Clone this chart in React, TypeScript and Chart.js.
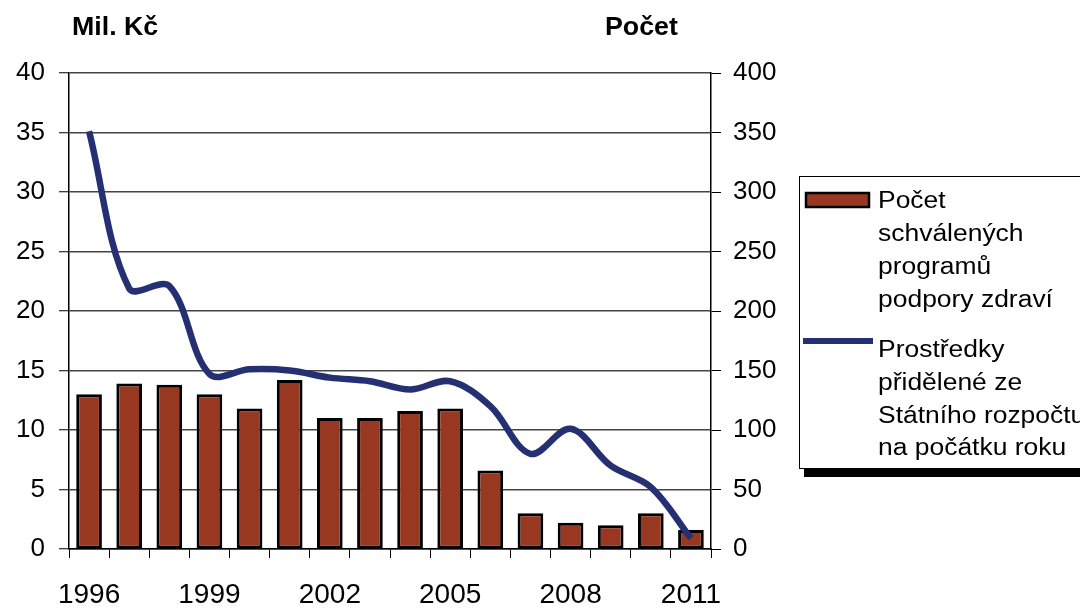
import React, { useEffect, useRef } from "react";
import { Chart, registerables } from "chart.js";

Chart.register(...registerables);

const years = ["1996", "1997", "1998", "1999", "2000", "2001", "2002", "2003", "2004", "2005", "2006", "2007", "2008", "2009", "2010", "2011"];
const programCounts = [130, 139, 138, 130, 118, 142, 110, 110, 116, 118, 66, 30, 22, 20, 30, 16];
const fundsMilCzk = [35.1, 21.9, 22.1, 14.7, 15.1, 15.0, 14.4, 14.1, 13.4, 14.1, 12.0, 8.0, 10.1, 7.0, 5.2, 0.9];
const leftTitle = "Mil. Kč";
const rightTitle = "Počet";
const legendBars = ["Počet", "schválených", "programů", "podpory zdraví"];
const legendLine = ["Prostředky", "přidělené ze", "Státního rozpočtu", "na počátku roku"];

const FONT = "'Liberation Sans', Arial, sans-serif";
const BAR_COLOR = "#993820";
const LINE_COLOR = "#243072";

function stretchedText(ctx: CanvasRenderingContext2D, text: string, x: number, y: number, sx: number) {
  ctx.save();
  ctx.translate(x, y);
  ctx.scale(sx, 1);
  ctx.fillText(text, 0, 0);
  ctx.restore();
}

const overlayPlugin = {
  id: "overlay",
  afterDraw(chart: any) {
    const ctx: CanvasRenderingContext2D = chart.ctx;
    ctx.save();
    ctx.fillStyle = "#000";
    ctx.textBaseline = "alphabetic";
    ctx.textAlign = "left";
    ctx.font = `bold 25px ${FONT}`;
    stretchedText(ctx, leftTitle, 72, 35, 1.07);
    stretchedText(ctx, rightTitle, 605, 35, 1.07);

    ctx.fillStyle = "#000";
    ctx.fillRect(804, 469, 300, 8);
    ctx.fillStyle = "#fff";
    ctx.fillRect(799.5, 176.5, 300, 292);
    ctx.strokeStyle = "#000";
    ctx.lineWidth = 1;
    ctx.strokeRect(799.5, 176.5, 300, 292);

    ctx.fillStyle = BAR_COLOR;
    ctx.fillRect(806, 193, 63, 14);
    ctx.strokeStyle = "#000";
    ctx.lineWidth = 2.5;
    ctx.strokeRect(806, 193, 63, 14);

    ctx.strokeStyle = LINE_COLOR;
    ctx.lineWidth = 6;
    ctx.beginPath();
    ctx.moveTo(803, 341);
    ctx.lineTo(873, 341);
    ctx.stroke();

    ctx.fillStyle = "#000";
    ctx.font = `23px ${FONT}`;
    const barBase = [208, 241, 274, 307];
    legendBars.forEach((t, i) => stretchedText(ctx, t, 878, barBase[i], 1.15));
    const lineBase = [357, 390, 423, 455];
    legendLine.forEach((t, i) => stretchedText(ctx, t, 878, lineBase[i], 1.15));
    ctx.restore();
  },
};

export default function App() {
  const ref = useRef<HTMLCanvasElement>(null);
  useEffect(() => {
    if (!ref.current) return;
    const chart = new Chart(ref.current, {
      type: "bar",
      data: {
        labels: years,
        datasets: [
          {
            type: "line",
            label: "Prostředky přidělené ze Státního rozpočtu na počátku roku",
            data: fundsMilCzk,
            yAxisID: "y",
            borderColor: LINE_COLOR,
            backgroundColor: LINE_COLOR,
            borderWidth: 6.5,
            pointRadius: 0,
            tension: 0.35,
            order: 0,
          } as any,
          {
            type: "bar",
            label: "Počet schválených programů podpory zdraví",
            data: programCounts,
            yAxisID: "y1",
            backgroundColor: BAR_COLOR,
            borderColor: "#000",
            borderWidth: 3,
            borderSkipped: false,
            barPercentage: 0.64,
            categoryPercentage: 1,
            order: 1,
          },
        ],
      },
      options: {
        responsive: false,
        animation: false,
        layout: { padding: { top: 73, left: 0, right: 0, bottom: 0 } },
        plugins: { legend: { display: false }, tooltip: { enabled: false }, title: { display: false } },
        scales: {
          x: {
            type: "category",
            offset: true,
            grid: { offset: true, drawOnChartArea: false, drawTicks: true, tickLength: 9, color: "#000", lineWidth: 1 },
            border: { display: true, color: "#000", width: 1.5 },
            ticks: {
              autoSkip: false,
              maxRotation: 0,
              color: "#000",
              font: { family: FONT, size: 28 },
              padding: 20,
              callback: (_v: any, i: number) => (i % 3 === 0 ? years[i] : ""),
            },
            afterFit: (s: any) => { s.height = 59; },
          },
          y: {
            position: "left",
            min: 0,
            max: 40,
            ticks: { stepSize: 5, color: "#000", font: { family: FONT, size: 26 }, padding: 14 },
            grid: { color: "#444", lineWidth: 1.5, drawTicks: true, tickLength: 10, tickColor: "#000", tickWidth: 1 },
            border: { display: true, color: "#000", width: 1.5 },
            afterFit: (s: any) => { s.width = 69; },
          },
          y1: {
            position: "right",
            min: 0,
            max: 400,
            ticks: { stepSize: 50, color: "#000", font: { family: FONT, size: 26 }, padding: 12 },
            grid: { drawOnChartArea: false, drawTicks: true, tickLength: 10, color: "#000", lineWidth: 1 },
            border: { display: true, color: "#000", width: 1.5 },
            afterFit: (s: any) => { s.width = 369; },
          },
        },
      },
      plugins: [overlayPlugin],
    });
    return () => chart.destroy();
  }, []);
  return (
    <div style={{ position: "absolute", left: 0, top: 0, width: 1080, height: 608, background: "#fff" }}>
      <canvas ref={ref} width={1080} height={608} style={{ display: "block" }} />
    </div>
  );
}
